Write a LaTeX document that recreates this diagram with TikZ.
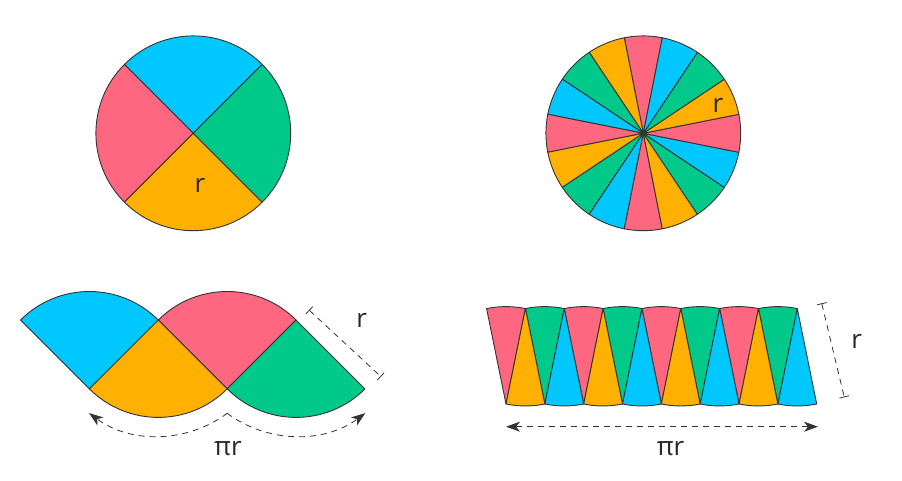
\documentclass[tikz,border=0pt]{standalone}
\usepackage{fontspec}
\setmainfont{Open Sans}
\usetikzlibrary{arrows.meta}
\definecolor{cblue}{HTML}{00C8FF}
\definecolor{cpink}{HTML}{FF6680}
\definecolor{corange}{HTML}{FFB000}
\definecolor{cgreen}{HTML}{00C98A}

\begin{document}
\begin{tikzpicture}[
    x=1pt, y=1pt,
    sector/.style={draw=black!80, line width=0.9pt, line join=round},
    lbl/.style={font=\fontsize{26}{30}\selectfont, text=black!85, inner sep=0pt},
    dimline/.style={draw=black!80, line width=0.8pt, dash pattern=on 6pt off 5pt},
    mytip/.tip={Stealth[length=14pt, width=10pt, inset=4pt]},
    mybar/.tip={Bar[width=10pt, line width=0.8pt]}
]
\def\R{97.4}
\useasboundingbox (0,0) rectangle (902,480);

% Circles
\coordinate (c1) at (193.3,346.7);
\coordinate (c2) at (643.3,346.7);

\draw[sector, fill=cblue]   (c1) -- ++(45:\R)  arc[start angle=45,  end angle=135, radius=\R] -- cycle;
\draw[sector, fill=cpink]   (c1) -- ++(135:\R) arc[start angle=135, end angle=225, radius=\R] -- cycle;
\draw[sector, fill=corange] (c1) -- ++(225:\R) arc[start angle=225, end angle=315, radius=\R] -- cycle;
\draw[sector, fill=cgreen]  (c1) -- ++(315:\R) arc[start angle=315, end angle=405, radius=\R] -- cycle;

\foreach \col [count=\k from 0] in {cpink,corange,cgreen,cblue,cpink,corange,cgreen,cblue,
                                    cpink,corange,cgreen,cblue,cpink,corange,cgreen,cblue}
  \draw[sector, fill=\col] (c2) -- ++(78.75+22.5*\k:\R)
    arc[start angle=78.75+22.5*\k, end angle=101.25+22.5*\k, radius=\R] -- cycle;

% Four quarters laid out
\coordinate (qb) at (89.4,91.1);
\coordinate (qo) at (158.3,160);
\coordinate (qp) at (227.2,91.1);
\coordinate (qg) at (296.1,160);

\draw[sector, fill=cblue]   (qb) -- ++(45:\R)  arc[start angle=45,  end angle=135, radius=\R] -- cycle;
\draw[sector, fill=cpink]   (qp) -- ++(45:\R)  arc[start angle=45,  end angle=135, radius=\R] -- cycle;
\draw[sector, fill=corange] (qo) -- ++(225:\R) arc[start angle=225, end angle=315, radius=\R] -- cycle;
\draw[sector, fill=cgreen]  (qg) -- ++(225:\R) arc[start angle=225, end angle=315, radius=\R] -- cycle;

% Sixteen slices laid out
\foreach \col [count=\k from 0] in {cpink,cgreen,cpink,cgreen,cpink,cgreen,cpink,cgreen}
  \draw[sector, fill=\col] (506+38.84*\k,76) -- ++(78.5:\R)
    arc[start angle=78.5, end angle=101.5, radius=\R] -- cycle;
\foreach \col [count=\k from 0] in {corange,cblue,corange,cblue,corange,cblue,corange,cblue}
  \draw[sector, fill=\col] (525.42+38.84*\k,171.44) -- ++(258.5:\R)
    arc[start angle=258.5, end angle=281.5, radius=\R] -- cycle;

% Dimensions
\coordinate (lt) at (309,170);
\coordinate (lb) at (381,103.3);
\coordinate (rt) at (821.7,176.7);
\coordinate (rb) at (844.3,82.7);
\coordinate (hl) at (506,53.3);
\coordinate (hr) at (818,53.3);

\draw[dimline, mybar-mybar] (lt) -- (lb);
\draw[dimline, mybar-mybar] (rt) -- (rb);
\draw[dimline, mytip-mytip] (hl) -- (hr);
\draw[dimline, -mytip] (qo) ++(-53.4:116) arc[start angle=-53.4, end angle=-126.6, radius=116];
\draw[dimline, -mytip] (qg) ++(-126.6:116) arc[start angle=-126.6, end angle=-53.4, radius=116];

% Labels
\node[lbl] (r1) at (200,295) {r};
\node[lbl] (r2) at (718,375) {r};
\node[lbl] (r3) at (361.7,160) {r};
\node[lbl] (r4) at (856.7,138.3) {r};
\node[lbl] (pr1) at (228,31) {πr};
\node[lbl] (pr2) at (670.5,31) {πr};

\end{tikzpicture}
\end{document}
